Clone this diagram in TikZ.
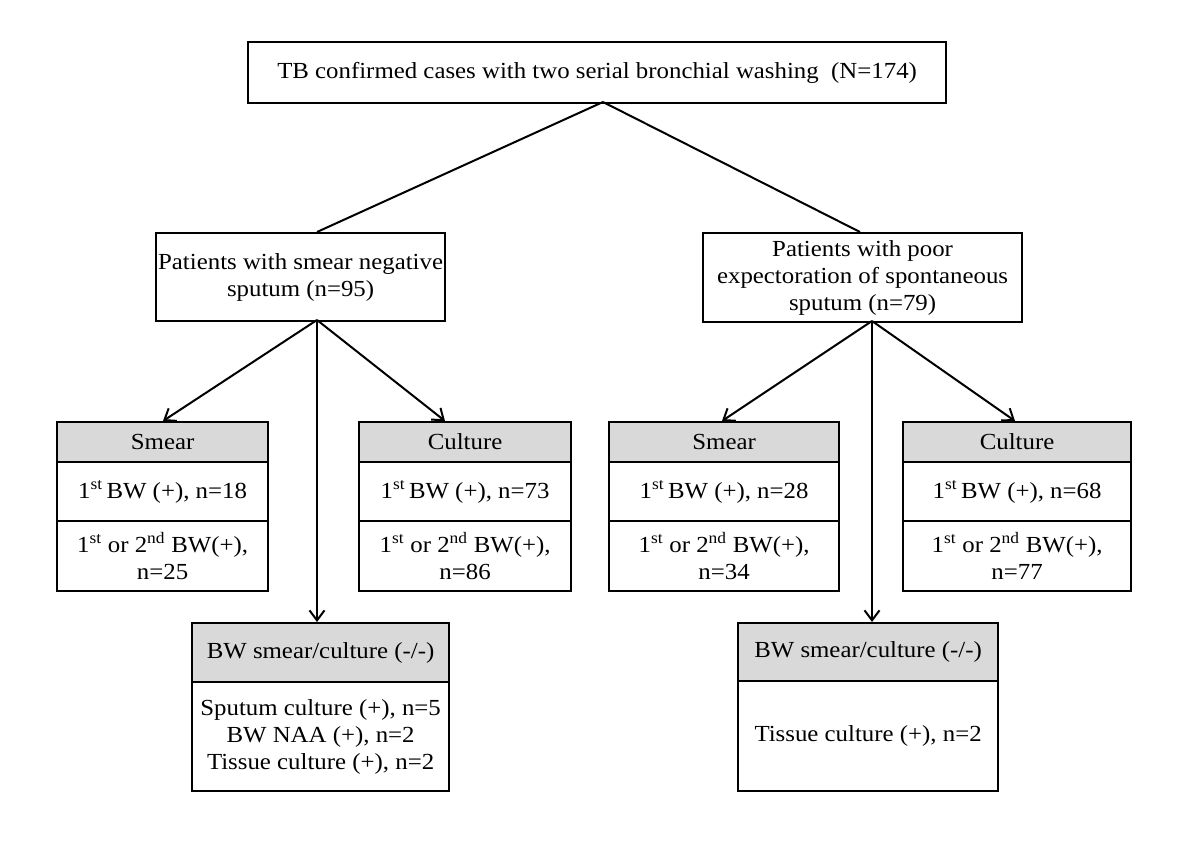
\documentclass[tikz,border=0pt]{standalone}
\usepackage{fontspec}
\setmainfont{Liberation Serif}[FakeStretch=1.08]
\usetikzlibrary{arrows.meta}
\tikzset{
  box/.style={draw, line width=2.2pt, inner sep=2pt, align=center, anchor=north west,
    font=\fontsize{23}{27}\selectfont},
  head/.style={box, fill=black!15},
  conn/.style={line width=2pt},
  arr/.style={conn, -{Straight Barb[length=10pt,width=15pt,line width=2pt]}}
}
\begin{document}
\begin{tikzpicture}[x=1pt,y=-1pt]
\useasboundingbox (0,0) rectangle (1200,841);
\fill[white] (0,0) rectangle (1200,841);
% top
\node[box, minimum width=698, minimum height=61] (top) at (247,41)
  {TB confirmed cases with two serial bronchial washing\ \ (N=174)};
% second level
\node[box, minimum width=289, minimum height=88] (PL) at (155,232)
  {Patients with smear negative\\ sputum (n=95)};
\node[box, minimum width=319, minimum height=89] (PR) at (702,232)
  {Patients with poor\\ expectoration of spontaneous\\ sputum (n=79)};
% smear left
\node[head, minimum width=211, minimum height=40] (SLh) at (56,421) {Smear};
\node[box, minimum width=211, minimum height=59] (SL1) at (56,461) {1\textsuperscript{st}\,BW (+), n=18};
\node[box, minimum width=211, minimum height=70] (SL2) at (56,520) {1\textsuperscript{st} or 2\textsuperscript{nd} BW(+),\\ n=25};
% culture left
\node[head, minimum width=212, minimum height=40] (CLh) at (358,421) {Culture};
\node[box, minimum width=212, minimum height=59] (CL1) at (358,461) {1\textsuperscript{st}\,BW (+), n=73};
\node[box, minimum width=212, minimum height=70] (CL2) at (358,520) {1\textsuperscript{st} or 2\textsuperscript{nd} BW(+),\\ n=86};
% smear right
\node[head, minimum width=230, minimum height=40] (SRh) at (608,421) {Smear};
\node[box, minimum width=230, minimum height=59] (SR1) at (608,461) {1\textsuperscript{st}\,BW (+), n=28};
\node[box, minimum width=230, minimum height=70] (SR2) at (608,520) {1\textsuperscript{st} or 2\textsuperscript{nd} BW(+),\\ n=34};
% culture right
\node[head, minimum width=228, minimum height=40] (CRh) at (902,421) {Culture};
\node[box, minimum width=228, minimum height=59] (CR1) at (902,461) {1\textsuperscript{st}\,BW (+), n=68};
\node[box, minimum width=228, minimum height=70] (CR2) at (902,520) {1\textsuperscript{st} or 2\textsuperscript{nd} BW(+),\\ n=77};
% BW boxes
\node[head, minimum width=257, minimum height=59] (BLh) at (191,622) {BW smear/culture (-/-)};
\node[box, minimum width=257, minimum height=109] (BL1) at (191,681)
  {Sputum culture (+), n=5\\ BW NAA (+), n=2\\ Tissue culture (+), n=2};
\node[head, minimum width=260, minimum height=58] (BRh) at (737,622) {BW smear/culture (-/-)};
\node[box, minimum width=260, minimum height=110] (BR1) at (737,680)
  {Tissue culture (+), n=2};
% connector points
\coordinate (oT) at (603,102);
\coordinate (iPL) at (317,232);
\coordinate (iPR) at (860,232);
\coordinate (oL) at (317,320);
\coordinate (oR) at (872,321);
\coordinate (tSL) at (163,421);
\coordinate (tCL) at (445,421);
\coordinate (tBL) at (317,622);
\coordinate (tSR) at (722,421);
\coordinate (tCR) at (1015,421);
\coordinate (tBR) at (872,622);
\draw[conn] (oT) -- (iPL);
\draw[conn] (oT) -- (iPR);
\draw[arr] (oL) -- (tSL);
\draw[arr] (oL) -- (tCL);
\draw[arr] (oL) -- (tBL);
\draw[arr] (oR) -- (tSR);
\draw[arr] (oR) -- (tCR);
\draw[arr] (oR) -- (tBR);
\end{tikzpicture}
\end{document}
